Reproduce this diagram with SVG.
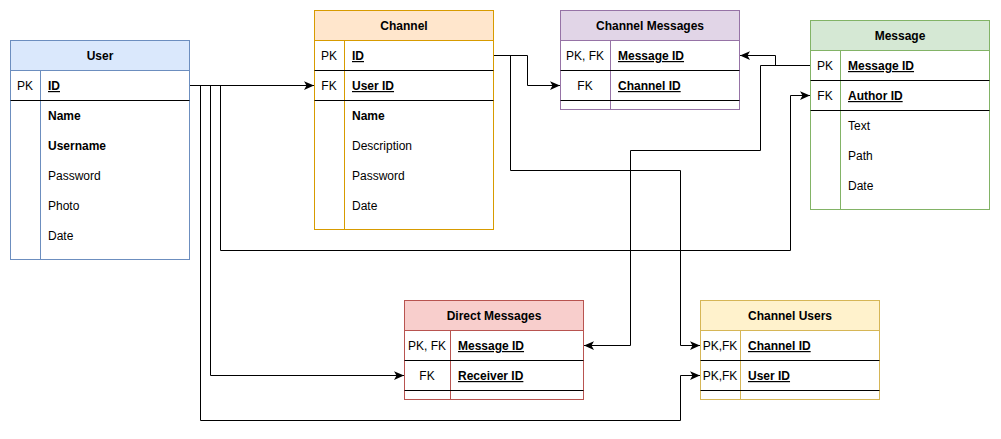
<svg xmlns="http://www.w3.org/2000/svg" width="1001" height="439" viewBox="0 0 1001 439">
<style>
text{font-family:"Liberation Sans",Arial,sans-serif;font-size:12px;fill:#000}
.h{font-weight:bold;text-anchor:middle}
.k{text-anchor:middle}
.b{font-weight:bold}
.u{text-decoration:underline}
.sep{stroke:#000;stroke-width:1}
.c{fill:none;stroke:#000;stroke-width:1;marker-end:url(#arr)}
</style>
<defs>
<marker id="arr" markerUnits="userSpaceOnUse" markerWidth="10" markerHeight="10" viewBox="0 0 8 8" refX="8" refY="4" orient="auto">
<path d="M0,0.5 L8,4 L0,7.5 L2,4 z" fill="#000"/>
</marker>
</defs>
<rect width="1001" height="439" fill="#fff"/>

<g id="user">
<rect x="10.5" y="40.5" width="179" height="219" fill="#fff" stroke="#6c8ebf"/>
<rect x="10.5" y="40.5" width="179" height="30" fill="#dae8fc" stroke="#6c8ebf"/>
<line x1="40.5" y1="70.5" x2="40.5" y2="259.5" stroke="#6c8ebf"/>
<line class="sep" x1="10.5" y1="100.5" x2="189.5" y2="100.5"/>
<text class="h" x="100" y="60">User</text>
<text class="k" x="25" y="90">PK</text>
<text class="b u" x="48" y="90">ID</text>
<text class="b" x="48" y="120">Name</text>
<text class="b" x="48" y="150">Username</text>
<text x="48" y="180">Password</text>
<text x="48" y="210">Photo</text>
<text x="48" y="240">Date</text>
</g>

<g id="channel">
<rect x="314.5" y="10.5" width="179" height="219" fill="#fff" stroke="#d79b00"/>
<rect x="314.5" y="10.5" width="179" height="30" fill="#ffe6cc" stroke="#d79b00"/>
<line x1="344.5" y1="40.5" x2="344.5" y2="229.5" stroke="#d79b00"/>
<line class="sep" x1="314.5" y1="70.5" x2="493.5" y2="70.5"/>
<line class="sep" x1="314.5" y1="100.5" x2="493.5" y2="100.5"/>
<text class="h" x="404" y="30">Channel</text>
<text class="k" x="329" y="60">PK</text>
<text class="b u" x="352" y="60">ID</text>
<text class="k" x="329" y="90">FK</text>
<text class="b u" x="352" y="90">User ID</text>
<text class="b" x="352" y="120">Name</text>
<text x="352" y="150">Description</text>
<text x="352" y="180">Password</text>
<text x="352" y="210">Date</text>
</g>

<g id="channel-messages">
<rect x="560.5" y="10.5" width="179" height="99" fill="#fff" stroke="#9673a6"/>
<rect x="560.5" y="10.5" width="179" height="30" fill="#e1d5e7" stroke="#9673a6"/>
<line x1="610.5" y1="40.5" x2="610.5" y2="109.5" stroke="#9673a6"/>
<line class="sep" x1="560.5" y1="70.5" x2="739.5" y2="70.5"/>
<line class="sep" x1="560.5" y1="100.5" x2="739.5" y2="100.5"/>
<text class="h" x="650" y="30">Channel Messages</text>
<text class="k" x="585" y="60">PK, FK</text>
<text class="b u" x="618" y="60">Message ID</text>
<text class="k" x="585" y="90">FK</text>
<text class="b u" x="618" y="90">Channel ID</text>
</g>

<g id="message">
<rect x="810.5" y="20.5" width="179" height="189" fill="#fff" stroke="#82b366"/>
<rect x="810.5" y="20.5" width="179" height="30" fill="#d5e8d4" stroke="#82b366"/>
<line x1="840.5" y1="50.5" x2="840.5" y2="209.5" stroke="#82b366"/>
<line class="sep" x1="810.5" y1="80.5" x2="989.5" y2="80.5"/>
<line class="sep" x1="810.5" y1="110.5" x2="989.5" y2="110.5"/>
<text class="h" x="900" y="40">Message</text>
<text class="k" x="825" y="70">PK</text>
<text class="b u" x="848" y="70">Message ID</text>
<text class="k" x="825" y="100">FK</text>
<text class="b u" x="848" y="100">Author ID</text>
<text x="848" y="130">Text</text>
<text x="848" y="160">Path</text>
<text x="848" y="190">Date</text>
</g>

<g id="direct-messages">
<rect x="404.5" y="300.5" width="179" height="99" fill="#fff" stroke="#b85450"/>
<rect x="404.5" y="300.5" width="179" height="30" fill="#f8cecc" stroke="#b85450"/>
<line x1="450.5" y1="330.5" x2="450.5" y2="399.5" stroke="#b85450"/>
<line class="sep" x1="404.5" y1="360.5" x2="583.5" y2="360.5"/>
<line class="sep" x1="404.5" y1="390.5" x2="583.5" y2="390.5"/>
<text class="h" x="494" y="320">Direct Messages</text>
<text class="k" x="427" y="350">PK, FK</text>
<text class="b u" x="458" y="350">Message ID</text>
<text class="k" x="427" y="380">FK</text>
<text class="b u" x="458" y="380">Receiver ID</text>
</g>

<g id="channel-users">
<rect x="700.5" y="300.5" width="179" height="99" fill="#fff" stroke="#d6b656"/>
<rect x="700.5" y="300.5" width="179" height="30" fill="#fff2cc" stroke="#d6b656"/>
<line x1="740.5" y1="330.5" x2="740.5" y2="399.5" stroke="#d6b656"/>
<line class="sep" x1="700.5" y1="360.5" x2="879.5" y2="360.5"/>
<line class="sep" x1="700.5" y1="390.5" x2="879.5" y2="390.5"/>
<text class="h" x="790" y="320">Channel Users</text>
<text class="k" x="720" y="350">PK,FK</text>
<text class="b u" x="748" y="350">Channel ID</text>
<text class="k" x="720" y="380">PK,FK</text>
<text class="b u" x="748" y="380">User ID</text>
</g>

<g id="connectors">
<path class="c" d="M190,85.5 H314"/>
<path class="c" d="M190,85.5 H200.5 V420.5 H680.5 V375.5 H700"/>
<path class="c" d="M190,85.5 H210.5 V375.5 H404"/>
<path class="c" d="M190,85.5 H220.5 V250.5 H790.5 V95.5 H810"/>
<path class="c" d="M494,55.5 H527.5 V85.5 H560"/>
<path class="c" d="M494,55.5 H510.5 V170.5 H680.5 V345.5 H700"/>
<path class="c" d="M810,65.5 H775.5 V55.5 H740"/>
<path class="c" d="M810,65.5 H760.5 V150.5 H630.5 V345.5 H584"/>
</g>
</svg>
